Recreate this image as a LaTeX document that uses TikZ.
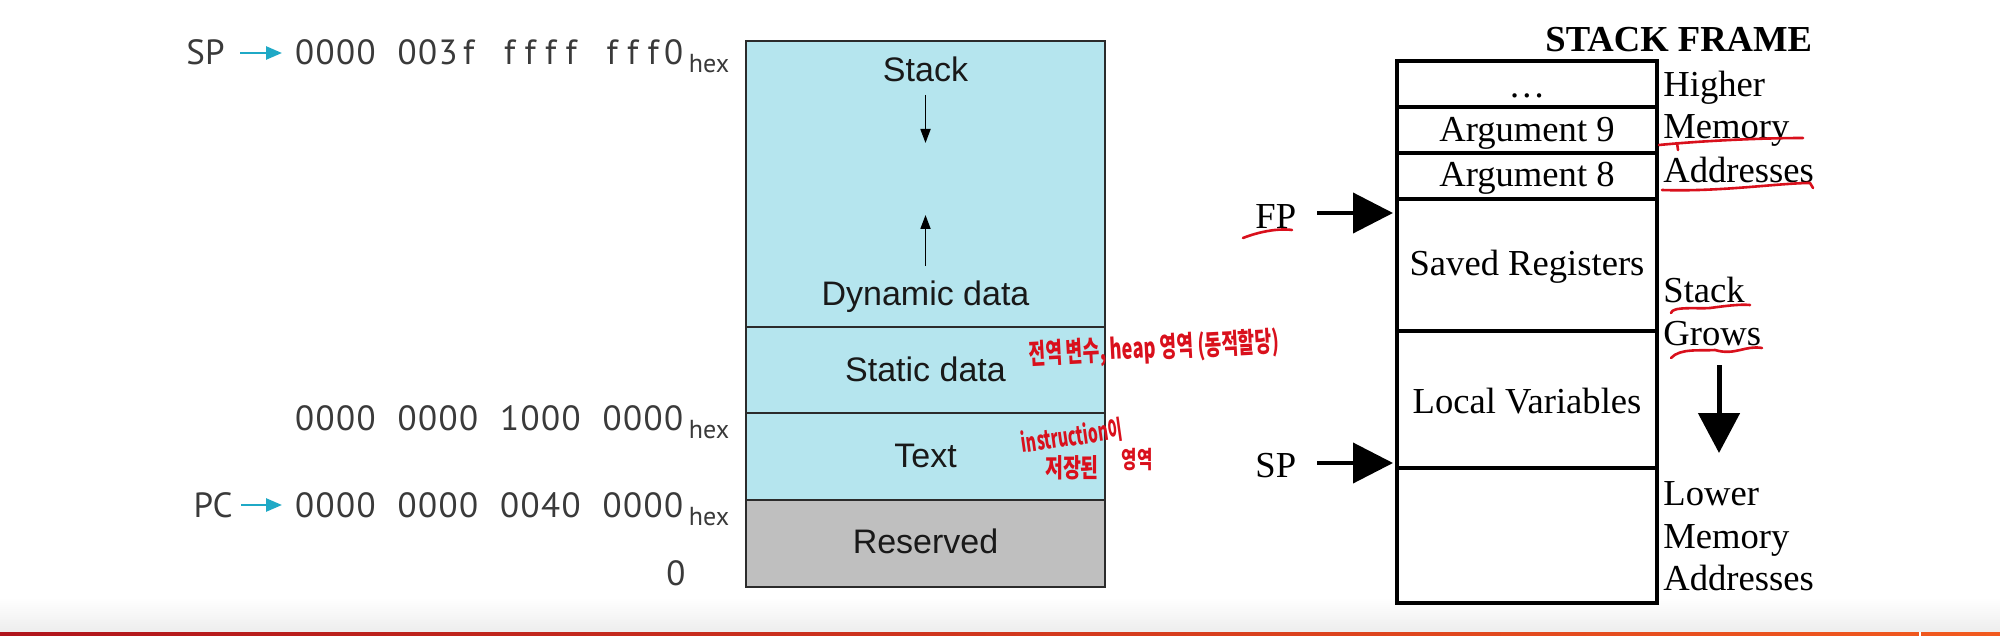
\documentclass[tikz,border=0pt]{standalone}
\usepackage{fontspec}
\usetikzlibrary{arrows.meta}
\newfontfamily\arialf{Liberation Sans}
\newfontfamily\timesf{Liberation Serif}
\newfontfamily\addrf{PT Sans}
\newfontfamily\korf{Noto Sans CJK KR}
\definecolor{memblue}{HTML}{B5E5EE}
\definecolor{resgray}{HTML}{BFBFBF}
\definecolor{tealc}{HTML}{1FA9C6}
\definecolor{addrgray}{HTML}{3A3A3A}
\definecolor{pen}{HTML}{D9101C}
\definecolor{boxline}{HTML}{2B2B2B}
\definecolor{barL}{HTML}{B0141C}
\definecolor{barM}{HTML}{E80A0A}
\definecolor{barR}{HTML}{F25A1E}
\newcommand\mgrp[1]{\mgrpA#1\relax}
\def\mgrpA#1{\ifx\relax#1\else\makebox[10.25pt][c]{#1}\expandafter\mgrpA\fi}
\newcommand\hexsub{\hspace{2.5pt}\raisebox{-4pt}{\fontsize{13pt}{15pt}\selectfont hex}}
\begin{document}
\begin{tikzpicture}[x=0.5pt,y=-0.5pt,
  memline/.style={draw=boxline,line width=1.2pt},
  divline/.style={draw=boxline,line width=1pt},
  memtext/.style={font=\arialf\fontsize{17pt}{19pt}\selectfont,anchor=base,inner sep=0pt,text=black!90},
  addr/.style={font=\addrf\fontsize{17.5pt}{20pt}\selectfont,inner sep=0pt,text=addrgray},
  tealarr/.style={draw=tealc,line width=1.3pt,-{Triangle[length=8pt,width=6.5pt]}},
  smallarr/.style={draw=black,line width=0.9pt,-{Triangle[length=7pt,width=5pt]}},
  frameline/.style={draw=black,line width=1.6pt},
  frtext/.style={font=\timesf\fontsize{18.3pt}{21pt}\selectfont,anchor=base,inner sep=0pt},
  sidetext/.style={font=\timesf\fontsize{18.3pt}{21pt}\selectfont,anchor=base west,inner sep=0pt},
  bigarr/.style={draw=black,line width=2pt,-{Triangle[length=20pt,width=20pt]}},
  pentext/.style={font=\korf\bfseries,text=pen,inner sep=0pt},
  penline/.style={draw=pen,line width=1.3pt,line cap=round,line join=round}
]
\useasboundingbox (0,0) rectangle (2000,636);
\fill[white] (0,0) rectangle (2000,636);
% bottom band
\shade[top color=white,bottom color=black!7] (0,598) rectangle (2000,632);
\shade[left color=barL,middle color=barM,right color=barR] (0,632) rectangle (2000,636);
\fill[white] (1919,632) rectangle (1921,636);

% ---------- memory layout ----------
\draw[memline,fill=memblue] (746,41) rectangle (1105,500);
\draw[memline,fill=resgray] (746,500) rectangle (1105,587);
\draw[divline] (746,327) -- (1105,327);
\draw[divline] (746,413) -- (1105,413);

\node[memtext] (stk) at (925.5,81.7) {Stack};
\node[memtext] (dyn) at (925.5,305) {Dynamic data};
\node[memtext] (stat) at (925.5,381) {Static data};
\node[memtext] (txt) at (925.5,467) {Text};
\node[memtext] (res) at (925.5,553) {Reserved};
\coordinate (sdA) at (925.5,95);
\coordinate (sdB) at (925.5,143);
\coordinate (duA) at (925.5,266);
\coordinate (duB) at (925.5,215);
\draw[smallarr] (sdA) -- (sdB);
\draw[smallarr] (duA) -- (duB);

% addresses
\node[addr,anchor=base east] (splbl) at (225,65) {SP};
\node[addr,anchor=base east] (pclbl) at (233,517) {PC};
\coordinate (spA) at (240,53);
\coordinate (spB) at (282,53);
\coordinate (pcA) at (241,505);
\coordinate (pcB) at (282,505);
\draw[tealarr] (spA) -- (spB);
\draw[tealarr] (pcA) -- (pcB);
\node[addr,anchor=base west] (a1) at (294,65) {\mgrp{0000~003f~ffff~fff0}\hexsub};
\node[addr,anchor=base west] (a2) at (294,430) {\mgrp{0000~0000~1000~0000}\hexsub};
\node[addr,anchor=base west] (a3) at (294,517) {\mgrp{0000~0000~0040~0000}\hexsub};
\node[addr,anchor=base] (a0) at (676,585) {0};

% ---------- handwriting ----------
\node[pentext,rotate=3] (n1) at (1154,349) {\scalebox{0.65}[1]{\fontsize{14pt}{16pt}\selectfont 전역 변수, heap 영역 (동적할당)}};
\node[pentext,rotate=8] (n2) at (1072,436) {\scalebox{0.6}[1]{\fontsize{13pt}{15pt}\selectfont instruction이}};
\node[pentext] (n3) at (1072,468) {\scalebox{0.75}[1]{\fontsize{13pt}{15pt}\selectfont 저장된}};
\node[pentext] (n4) at (1137,460) {\scalebox{0.7}[1]{\fontsize{12pt}{14pt}\selectfont 영역}};

% ---------- stack frame ----------
\node[font=\timesf\bfseries\fontsize{18.3pt}{21pt}\selectfont,anchor=base west,inner sep=0pt] (title) at (1545,52) {STACK FRAME};
\draw[frameline] (1397,61) rectangle (1657,603);
\foreach \yy in {107,153,199,331,468} {\draw[frameline] (1397,\yy) -- (1657,\yy);}
\node[frtext] (dots) at (1527,98) {…};
\node[frtext] (arg9) at (1527,142) {Argument 9};
\node[frtext] (arg8) at (1527,187) {Argument 8};
\node[frtext] (saved) at (1527,275) {Saved Registers};
\node[frtext] (local) at (1527,413) {Local Variables};

\node[sidetext] (hi1) at (1663,97) {Higher};
\node[sidetext] (hi2) at (1663,139) {Memory};
\node[sidetext] (hi3) at (1663,183) {Addresses};
\node[sidetext] (sg1) at (1663,302) {Stack};
\node[sidetext] (sg2) at (1663,345) {Grows};
\node[sidetext] (lo1) at (1663,505) {Lower};
\node[sidetext] (lo2) at (1663,548) {Memory};
\node[sidetext] (lo3) at (1663,590) {Addresses};

\node[sidetext] (fp) at (1255,228) {FP};
\node[sidetext] (sp2) at (1255,477) {SP};
\coordinate (fpA) at (1317,213);
\coordinate (fpB) at (1393,213);
\coordinate (spC) at (1317,463);
\coordinate (spD) at (1393,463);
\draw[bigarr] (fpA) -- (fpB);
\draw[bigarr] (spC) -- (spD);
\coordinate (gA) at (1719,365);
\coordinate (gB) at (1719,453);
\draw[draw=black,line width=2.5pt,-{Triangle[length=20pt,width=20.5pt]}] (gA) -- (gB);

% red underlines
\draw[penline] (1243,238) .. controls (1258,232) and (1278,228) .. (1292,230);
\draw[penline] (1659,145) .. controls (1700,141) and (1760,138) .. (1803,138);
\draw[penline] (1677,143) -- (1678,150);
\draw[penline] (1662,190) .. controls (1720,192) and (1780,183) .. (1810,183) -- (1813,188);
\draw[penline] (1671,313) .. controls (1672,306) and (1698,309) .. (1710,308) .. controls (1725,306) and (1740,304) .. (1750,305);
\draw[penline] (1671,358) .. controls (1680,348) and (1700,351) .. (1715,350) .. controls (1735,356) and (1745,345) .. (1762,348);
\end{tikzpicture}
\end{document}
